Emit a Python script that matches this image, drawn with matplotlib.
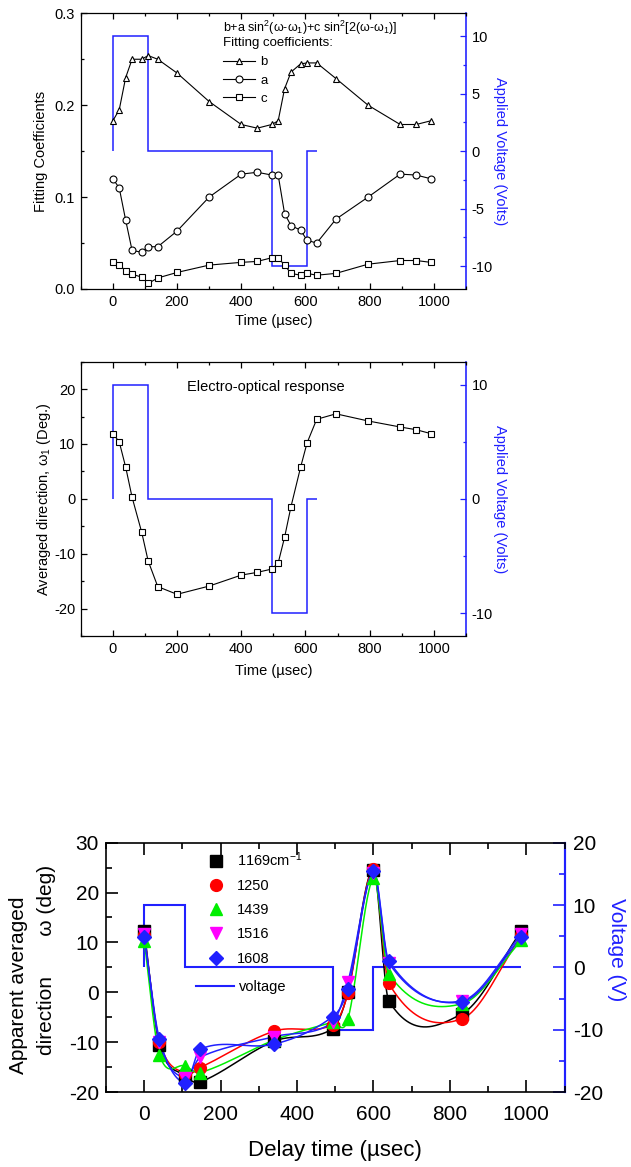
import numpy as np
import matplotlib
matplotlib.use('Agg')
import matplotlib.pyplot as plt
from matplotlib.ticker import MultipleLocator, FormatStrFormatter
from matplotlib.lines import Line2D

plt.rcParams['font.family'] = ['Liberation Sans', 'DejaVu Sans']
plt.rcParams['mathtext.fontset'] = 'custom'
plt.rcParams['mathtext.rm'] = 'Liberation Sans'
plt.rcParams['mathtext.it'] = 'Liberation Sans:italic'
plt.rcParams['mathtext.default'] = 'regular'
plt.rcParams['axes.unicode_minus'] = False

BLUE = '#2020ff'

# ---- panels 1 and 2: fitting coefficients and averaged direction ----
t_fit = [0, 20, 40, 60, 90, 110, 140, 200, 300, 400, 450, 495, 515, 535,
         555, 585, 605, 635, 695, 795, 895, 945, 990]
coef_b = [0.183, 0.195, 0.230, 0.250, 0.250, 0.254, 0.250, 0.235, 0.204,
          0.179, 0.175, 0.179, 0.183, 0.218, 0.236, 0.245, 0.246, 0.246,
          0.229, 0.200, 0.179, 0.179, 0.183]
coef_a = [0.120, 0.110, 0.075, 0.042, 0.040, 0.046, 0.046, 0.063, 0.100,
          0.125, 0.127, 0.124, 0.124, 0.082, 0.069, 0.064, 0.053, 0.050,
          0.076, 0.100, 0.125, 0.124, 0.120]
coef_c = [0.029, 0.026, 0.020, 0.016, 0.013, 0.006, 0.012, 0.018, 0.026,
          0.029, 0.030, 0.034, 0.034, 0.026, 0.017, 0.015, 0.017, 0.015,
          0.017, 0.027, 0.031, 0.031, 0.029]
omega1 = [11.9, 10.4, 5.8, 0.3, -6.1, -11.3, -16.0, -17.4, -15.9, -13.9,
          -13.4, -12.8, -11.7, -7.0, -1.4, 5.8, 10.2, 14.5, 15.5, 14.2,
          13.1, 12.6, 11.9]
pulse_edges = [0, 110, 495, 605, 635]
pulse_volts = [10, 0, -10, 0]

# ---- panel 3: apparent averaged direction for several bands ----
delay = [0, 40, 107, 147, 340, 493, 533, 600, 640, 832, 987]
bands = ['1169cm$^{-1}$', '1250', '1439', '1516', '1608']
dir_1169 = [12.3, -10.5, -16.8, -18.0, -9.8, -7.3, 0.0, 24.5, -1.7, -4.3, 12.3]
dir_1250 = [11.5, -9.9, -16.3, -15.1, -7.8, -6.5, -0.2, 24.7, 1.8, -5.3, 11.4]
dir_1439 = [10.3, -12.5, -14.8, -16.1, -9.6, -6.0, -5.4, 23.0, 3.7, -2.3, 10.4]
dir_1516 = [11.6, -10.0, -17.2, -13.0, -8.9, -6.0, 2.0, 24.0, 5.9, -1.7, 11.6]
dir_1608 = [11.1, -9.4, -18.2, -11.4, -10.4, -4.9, 0.7, 24.3, 6.3, -1.9, 11.0]
bottom_edges = [0, 107, 493, 600, 987]
bottom_volts = [10, 0, -10, 0]

W, H = 631, 1167


def px_axes(fig, left, right, top, bottom):
    return fig.add_axes([left / W, 1 - bottom / H, (right - left) / W, (bottom - top) / H])


def smooth(x, y, num=800):
    """Cubic Hermite curve through the points (Catmull-Rom tangents)."""
    x = np.asarray(x, float)
    y = np.asarray(y, float)
    m = np.empty_like(y)
    m[1:-1] = (y[2:] - y[:-2]) / (x[2:] - x[:-2])
    m[0] = (y[1] - y[0]) / (x[1] - x[0])
    m[-1] = (y[-1] - y[-2]) / (x[-1] - x[-2])
    xs = np.linspace(x[0], x[-1], num)
    k = np.clip(np.searchsorted(x, xs) - 1, 0, len(x) - 2)
    h = x[k + 1] - x[k]
    t = (xs - x[k]) / h
    ys = ((2 * t**3 - 3 * t**2 + 1) * y[k] + (t**3 - 2 * t**2 + t) * h * m[k]
          + (-2 * t**3 + 3 * t**2) * y[k + 1] + (t**3 - t**2) * h * m[k + 1])
    return xs, ys


def style(ax, ax2, fs, major_len, minor_len, lw, pad):
    for side in ['left', 'top', 'bottom']:
        ax.spines[side].set_linewidth(lw)
    ax.spines['right'].set_visible(False)
    for side in ['left', 'top', 'bottom']:
        ax2.spines[side].set_visible(False)
    ax2.spines['right'].set_color(BLUE)
    ax2.spines['right'].set_linewidth(lw * 1.3)
    ax.tick_params(which='both', direction='in', top=True, right=False,
                   labelsize=fs, width=lw, pad=pad)
    ax.tick_params(which='major', length=major_len)
    ax.tick_params(which='minor', length=minor_len)
    ax2.tick_params(which='both', direction='in', colors=BLUE, labelcolor='black',
                    labelsize=fs, width=lw, pad=pad)
    ax2.tick_params(which='major', length=major_len)
    ax2.tick_params(which='minor', length=minor_len)
    ax.xaxis.set_major_locator(MultipleLocator(200))
    ax.xaxis.set_minor_locator(MultipleLocator(100))
    ax.set_xlim(-100, 1100)


fig = plt.figure(figsize=(W / 100, H / 100), dpi=100)

# ---------------- panel 1 ----------------
ax1 = px_axes(fig, 80.7, 466, 13.3, 289)
ax1v = ax1.twinx()
style(ax1, ax1v, 10.5, 4.5, 2.5, 0.9, 4)
ax1.set_ylim(0, 0.3)
ax1.yaxis.set_major_locator(MultipleLocator(0.1))
ax1.yaxis.set_minor_locator(MultipleLocator(0.05))
ax1.yaxis.set_major_formatter(FormatStrFormatter('%.1f'))
ax1v.set_ylim(-12, 12)
ax1v.yaxis.set_major_locator(MultipleLocator(5))
ax1v.yaxis.set_minor_locator(MultipleLocator(2.5))
ax1v.stairs(pulse_volts, pulse_edges, baseline=0, color=BLUE, lw=1.1)
mk = dict(color='black', lw=0.8, mfc='white', mec='black', mew=0.8)
lb, = ax1.plot(t_fit, coef_b, marker='^', ms=5, **mk)
la, = ax1.plot(t_fit, coef_a, marker='o', ms=5, **mk)
lc, = ax1.plot(t_fit, coef_c, marker='s', ms=4.5, **mk)
ax1.set_zorder(ax1v.get_zorder() + 1)
ax1.patch.set_visible(False)
ax1.text(0.37, 0.9456, r'b+a sin$^2$(ω-ω$_1$)+c sin$^2$[2(ω-ω$_1$)]',
         transform=ax1.transAxes, fontsize=9, va='center', ha='left')
ax1.text(0.37, 0.891, 'Fitting coefficients:', transform=ax1.transAxes,
         fontsize=9.5, va='center', ha='left')
ax1.legend([lb, la, lc], ['b', 'a', 'c'], loc='upper left',
           bbox_to_anchor=(0.369, 0.845), frameon=False, fontsize=9.5,
           handlelength=2.4, handletextpad=0.45, labelspacing=0.46,
           borderpad=0, borderaxespad=0)
ax1.set_xlabel('Time (µsec)', fontsize=10.5, labelpad=4)
ax1.set_ylabel('Fitting Coefficients', fontsize=10.5, labelpad=5)
ax1v.set_ylabel('Applied Voltage (Volts)', fontsize=10.5, color=BLUE,
                rotation=270, labelpad=10)

# ---------------- panel 2 ----------------
ax2 = px_axes(fig, 80.7, 466, 361.7, 636)
ax2v = ax2.twinx()
style(ax2, ax2v, 10.5, 4.5, 2.5, 0.9, 4)
ax2.set_ylim(-25, 25)
ax2.yaxis.set_major_locator(MultipleLocator(10))
ax2.yaxis.set_minor_locator(MultipleLocator(5))
ax2v.set_ylim(-12, 12)
ax2v.yaxis.set_major_locator(MultipleLocator(10))
ax2v.yaxis.set_minor_locator(MultipleLocator(5))
ax2v.stairs(pulse_volts, pulse_edges, baseline=0, color=BLUE, lw=1.1)
ax2.plot(t_fit, omega1, marker='s', ms=4.5, **mk)
ax2.set_zorder(ax2v.get_zorder() + 1)
ax2.patch.set_visible(False)
ax2.text(232, 20.3, 'Electro-optical response', fontsize=10.5, va='center', ha='left')
ax2.set_xlabel('Time (µsec)', fontsize=10.5, labelpad=6)
ax2.set_ylabel('Averaged direction, ω$_1$ (Deg.)', fontsize=10.5, labelpad=1)
ax2v.set_ylabel('Applied Voltage (Volts)', fontsize=10.5, color=BLUE,
                rotation=270, labelpad=10)

# ---------------- panel 3 ----------------
ax3 = px_axes(fig, 106, 564.5, 842.7, 1092)
ax3v = ax3.twinx()
style(ax3, ax3v, 15, 8.5, 4.3, 1.2, 9)
ax3.tick_params(axis='y', pad=5)
ax3v.tick_params(axis='y', pad=6)
ax3.set_ylim(-20, 30)
ax3.yaxis.set_major_locator(MultipleLocator(10))
ax3.yaxis.set_minor_locator(MultipleLocator(5))
ax3v.set_ylim(-20, 20)
ax3v.yaxis.set_major_locator(MultipleLocator(10))
ax3v.yaxis.set_minor_locator(MultipleLocator(5))
ax3v.stairs(bottom_volts, bottom_edges, baseline=0, color=BLUE, lw=1.5)

series = [dir_1169, dir_1250, dir_1439, dir_1516, dir_1608]
marks = ['s', 'o', '^', 'v', 'D']
mcols = ['black', 'red', '#00ee00', 'magenta', BLUE]
lcols = ['black', 'red', '#00ee00', BLUE, BLUE]
sizes = [8, 8.5, 8.5, 8.5, 7.5]
for vals, lcol in zip(series, lcols):
    xs, ys = smooth(delay, vals)
    ax3.plot(xs, ys, color=lcol, lw=1.1)
handles = []
for vals, m, mc, s in zip(series, marks, mcols, sizes):
    h, = ax3.plot(delay, vals, ls='none', marker=m, ms=s, color=mc, mec=mc)
    handles.append(h)
ax3.set_zorder(ax3v.get_zorder() + 1)
ax3.patch.set_visible(False)

leg = ax3.legend(handles, bands, loc='upper left', bbox_to_anchor=(0.225, 0.97),
                 frameon=False, fontsize=10.5, handlelength=1.0, handletextpad=0.9,
                 labelspacing=0.7, borderpad=0, borderaxespad=0)
ax3.add_artist(leg)
ax3.legend([Line2D([], [], color=BLUE, lw=1.5)], ['voltage'], loc='center left',
           bbox_to_anchor=(0.197, 0.422), frameon=False, fontsize=10.5,
           handlelength=2.6, handletextpad=0.35, borderpad=0, borderaxespad=0)

ax3.set_xlabel('Delay time (µsec)', fontsize=16, labelpad=12)
ax3.text(-0.19, 0.43, 'Apparent averaged', transform=ax3.transAxes, rotation=90,
         fontsize=15, ha='center', va='center')
ax3.text(-0.13, 0.53, 'direction       ω (deg)', transform=ax3.transAxes,
         rotation=90, fontsize=15, ha='center', va='center')
ax3v.set_ylabel('Voltage (V)', fontsize=15, color=BLUE, rotation=270, labelpad=18)
ax3v.yaxis.set_label_coords(1.135, 0.57)

fig.savefig('out.png', dpi=100)
